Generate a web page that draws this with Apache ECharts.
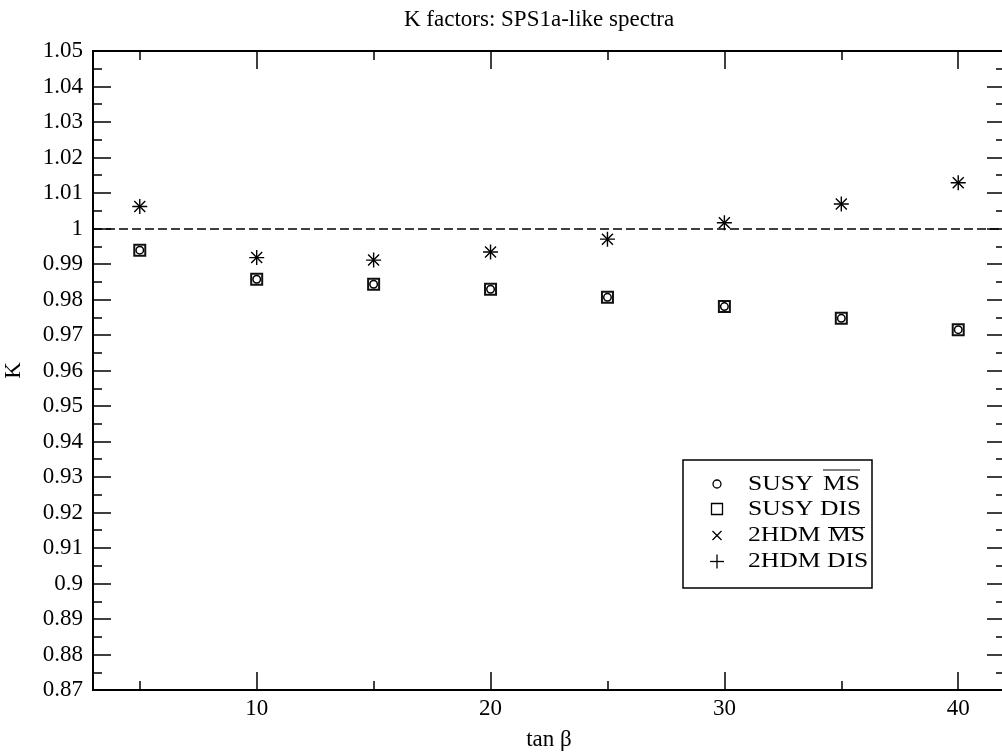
<!DOCTYPE html>
<html><head><meta charset="utf-8">
<script src="https://cdn.jsdelivr.net/npm/echarts@6/dist/echarts.min.js"></script>
<style>html,body{margin:0;padding:0;background:#fff}#c{width:1002px;height:756px}</style>
</head><body><div id="c"></div>
<script>
// ---- data ----
const tanBeta   = [5, 10, 15, 20, 25, 30, 35, 40];
const susyMSbar = [0.9939, 0.9857, 0.9843, 0.9829, 0.9806, 0.9780, 0.9747, 0.9715];
const susyDIS   = [0.9939, 0.9857, 0.9843, 0.9829, 0.9806, 0.9780, 0.9747, 0.9715];
const hdmMSbar  = [1.0062, 0.9918, 0.9911, 0.9934, 0.9970, 1.0016, 1.0069, 1.0129];
const hdmDIS    = [1.0062, 0.9918, 0.9911, 0.9934, 0.9970, 1.0016, 1.0069, 1.0129];
const xMajorTicks = [10, 20, 30, 40];
const xMinorTicks = [5, 15, 25, 35];
const referenceK = 1;
const titleText = 'K factors: SPS1a-like spectra';
const xName = 'tan β';
const yName = 'K';

const FONT = 'Liberation Serif';
const pairs = ys => tanBeta.map((x, i) => [x, ys[i]]);
const CROSS = 'path://M0,0L10,10M10,0L0,10';
const PLUS = 'path://M5,0L5,10M0,5L10,5';

const grid = { left: 93, top: 51, width: 912, height: 639, outerBoundsMode: 'none', containLabel: false };
const tickLine = { color: '#000', width: 1.5 };

function xAx(gridIndex, position, ticks, len, showLine, showLabel, extra) {
  return Object.assign({
    type: 'value', gridIndex, position, min: 3, max: 42,
    axisLine: { show: showLine, lineStyle: { color: '#000', width: 2 } },
    axisTick: { show: true, inside: true, length: len, customValues: ticks, lineStyle: tickLine },
    axisLabel: { show: showLabel, customValues: ticks, color: '#000', fontFamily: FONT, fontSize: 23, margin: 7 },
    splitLine: { show: false }
  }, extra || {});
}
function yAx(gridIndex, position, showLabel, extra) {
  return Object.assign({
    type: 'value', gridIndex, position, min: 0.87, max: 1.05, interval: 0.01,
    axisLine: { show: true, lineStyle: { color: '#000', width: 2 } },
    axisTick: { show: true, inside: true, length: 18, lineStyle: tickLine },
    minorTick: { show: true, splitNumber: 2, length: 9, lineStyle: tickLine },
    axisLabel: { show: showLabel, color: '#000', fontFamily: FONT, fontSize: 23, margin: 10 },
    splitLine: { show: false }, minorSplitLine: { show: false }
  }, extra || {});
}

const legendRows = [
  { y: 484, sym: 'circle', a: 'SUSY', b: 'MS', bx: 823, over: 470 },
  { y: 509, sym: 'rect', a: 'SUSY DIS' },
  { y: 535.5, sym: 'cross', a: '2HDM', b: 'MS', bx: 828, over: 527.5 },
  { y: 561.5, sym: 'plus', a: '2HDM DIS' }
];
const graphic = [{
  type: 'rect', shape: { x: 683, y: 460, width: 189, height: 128 },
  style: { fill: '#fff', stroke: '#000', lineWidth: 1.5 }, z: 10
}];
const sx = 717;
legendRows.forEach(r => {
  if (r.sym === 'circle') graphic.push({ type: 'circle', shape: { cx: sx, cy: r.y, r: 4 }, style: { fill: 'none', stroke: '#000', lineWidth: 1.3 }, z: 11 });
  if (r.sym === 'rect') graphic.push({ type: 'rect', shape: { x: sx - 5.5, y: r.y - 5.5, width: 11, height: 11 }, style: { fill: 'none', stroke: '#000', lineWidth: 1.3 }, z: 11 });
  if (r.sym === 'cross') graphic.push({ type: 'polyline', shape: { points: [[sx - 4.5, r.y - 4.5], [sx + 4.5, r.y + 4.5]] }, style: { stroke: '#000', lineWidth: 1.3 }, z: 11 },
                                       { type: 'polyline', shape: { points: [[sx + 4.5, r.y - 4.5], [sx - 4.5, r.y + 4.5]] }, style: { stroke: '#000', lineWidth: 1.3 }, z: 11 });
  if (r.sym === 'plus') graphic.push({ type: 'polyline', shape: { points: [[sx - 7, r.y], [sx + 7, r.y]] }, style: { stroke: '#000', lineWidth: 1.3 }, z: 11 },
                                      { type: 'polyline', shape: { points: [[sx, r.y - 7], [sx, r.y + 7]] }, style: { stroke: '#000', lineWidth: 1.3 }, z: 11 });
  graphic.push({ type: 'text', x: 748, y: r.y, scaleX: 1.22, z: 11,
    style: { text: r.a, fontFamily: FONT, fontSize: 21, fill: '#000', align: 'left', verticalAlign: 'middle' } });
  if (r.b) {
    graphic.push({ type: 'text', x: r.bx, y: r.y, scaleX: 1.22, z: 11,
      style: { text: r.b, fontFamily: FONT, fontSize: 21, fill: '#000', align: 'left', verticalAlign: 'middle' } });
    graphic.push({ type: 'line', shape: { x1: r.bx, y1: r.over, x2: r.bx + 37, y2: r.over }, style: { stroke: '#000', lineWidth: 1.2 }, z: 11 });
  }
});

const option = {
  animation: false,
  backgroundColor: '#fff',
  title: { text: titleText, left: 404, top: 8, padding: 0,
    textStyle: { fontFamily: FONT, fontSize: 23, fontWeight: 'normal', color: '#000' } },
  grid: [Object.assign({ show: true, borderColor: '#000', borderWidth: 2, backgroundColor: 'transparent' }, grid),
         Object.assign({ show: false }, grid)],
  xAxis: [
    xAx(0, 'bottom', xMajorTicks, 18, true, true, {
      name: xName, nameLocation: 'middle', nameGap: 38,
      nameTextStyle: { fontFamily: FONT, fontSize: 23, color: '#000' } }),
    xAx(0, 'top', xMajorTicks, 18, true, false),
    xAx(1, 'bottom', xMinorTicks, 9, false, false),
    xAx(1, 'top', xMinorTicks, 9, false, false)
  ],
  yAxis: [
    yAx(0, 'left', true, { name: yName, nameLocation: 'middle', nameGap: 68,
      nameTextStyle: { fontFamily: FONT, fontSize: 23, color: '#000' } }),
    yAx(0, 'right', false),
    { type: 'value', gridIndex: 1, min: 0.87, max: 1.05, show: false }
  ],
  series: [
    { name: 'SUSY DIS', type: 'scatter', data: pairs(susyDIS), symbol: 'rect', symbolSize: 11,
      itemStyle: { color: '#fff', borderColor: '#111', borderWidth: 2, opacity: 1 },
      markLine: { silent: true, symbol: ['none', 'none'], label: { show: false },
        lineStyle: { color: '#000', width: 1.5, type: [9, 4] }, data: [{ yAxis: referenceK }] } },
    { name: 'SUSY MS', type: 'scatter', data: pairs(susyMSbar), symbol: 'circle', symbolSize: 7.5,
      itemStyle: { color: '#fff', borderColor: '#000', borderWidth: 1.5, opacity: 1 } },
    { name: '2HDM MS', type: 'scatter', data: pairs(hdmMSbar), symbol: CROSS, symbolSize: 11,
      itemStyle: { color: 'transparent', borderColor: '#000', borderWidth: 1.4, opacity: 1 } },
    { name: '2HDM DIS', type: 'scatter', data: pairs(hdmDIS), symbol: PLUS, symbolSize: 15,
      itemStyle: { color: 'transparent', borderColor: '#000', borderWidth: 1.4, opacity: 1 } }
  ],
  graphic
};
const chart = echarts.init(document.getElementById('c'), null, { renderer: 'canvas' });
chart.setOption(option);
</script>
</body></html>
